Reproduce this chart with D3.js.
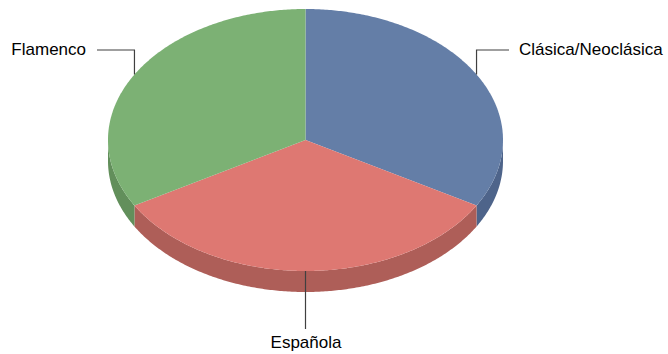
<!DOCTYPE html>
<html>
<head>
<meta charset="utf-8">
<script src="https://cdn.jsdelivr.net/npm/d3@7"></script>
<style>
html,body{margin:0;padding:0;background:#fff;}
svg{display:block;}
text{font-family:"Liberation Sans",Arial,sans-serif;font-size:17px;fill:#000;}
</style>
</head>
<body>
<svg id="chart" width="668" height="354"></svg>
<script>
const categories = ["Clásica/Neoclásica", "Española", "Flamenco"];
const values = [1, 1, 1];
const topColors = ["#647ea7", "#de7872", "#7cb174"];
const sideColors = ["#4e648a", "#ae5e58", "#628f5b"];

const W = 668, H = 354;
const cx = 305.5, cy = 140, rx = 197.5, ry = 131, depth = 21;

const svg = d3.select("#chart");
const pie = d3.pie().sort(null).value(d => d)(values);

const px = a => cx + rx * Math.sin(a);
const py = a => cy - ry * Math.cos(a);

function arcPoints(a0, a1, dy) {
  const n = Math.max(2, Math.ceil(Math.abs(a1 - a0) / 0.01));
  const pts = [];
  for (let i = 0; i <= n; i++) {
    const a = a0 + (a1 - a0) * i / n;
    pts.push([px(a), py(a) + dy]);
  }
  return pts;
}
const line = d3.line();

// sides (only front half visible: angles PI/2 .. 3PI/2)
pie.forEach((s, i) => {
  const a0 = Math.max(s.startAngle, Math.PI / 2);
  const a1 = Math.min(s.endAngle, 3 * Math.PI / 2);
  if (a1 <= a0) return;
  const top = arcPoints(a0, a1, 0);
  const bot = arcPoints(a1, a0, depth);
  svg.append("path")
    .attr("d", line(top.concat(bot)) + "Z")
    .attr("fill", sideColors[i]);
});

// top faces
pie.forEach((s, i) => {
  const pts = [[cx, cy]].concat(arcPoints(s.startAngle, s.endAngle, 0));
  svg.append("path")
    .attr("d", line(pts) + "Z")
    .attr("fill", topColors[i]);
});

// leader lines & labels
const labelPos = [
  {lineY: 50, endX: 509, tx: 519, ty: 55, anchor: "start"},
  {lineY: 329, tx: 306, ty: 348, anchor: "middle"},
  {lineY: 50, endX: 97, tx: 86, ty: 55, anchor: "end"}
];
pie.forEach((s, i) => {
  const m = (s.startAngle + s.endAngle) / 2;
  const x0 = px(m), y0 = py(m);
  const L = labelPos[i];
  let pts;
  if (L.endX !== undefined) pts = [[x0, y0], [x0, L.lineY], [L.endX, L.lineY]];
  else pts = [[x0, y0], [x0, L.lineY]];
  svg.append("path")
    .attr("d", line(pts))
    .attr("fill", "none")
    .attr("stroke", "#404040")
    .attr("stroke-width", 1.2);
  svg.append("text")
    .attr("x", L.tx).attr("y", L.ty)
    .attr("text-anchor", L.anchor)
    .text(categories[i]);
});
</script>
</body>
</html>
